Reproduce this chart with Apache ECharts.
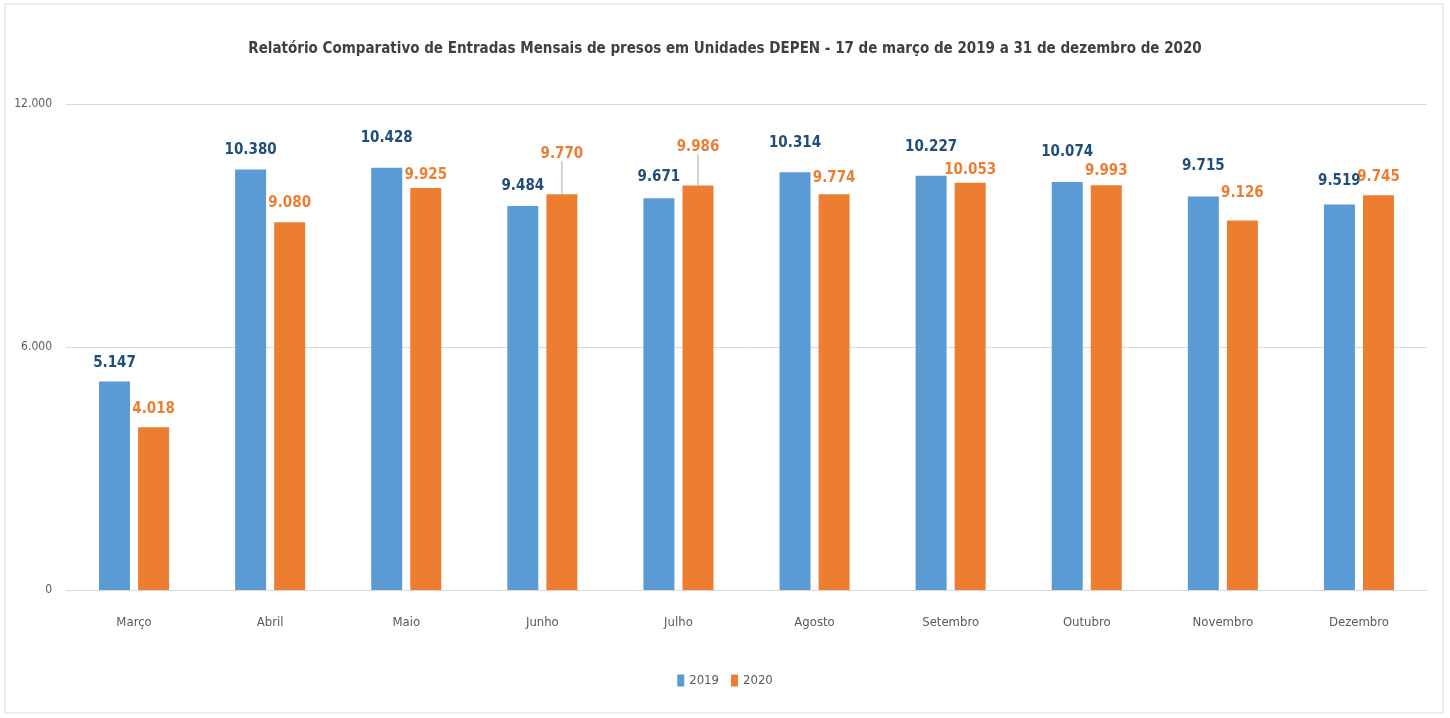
<!DOCTYPE html>
<html>
<head>
<meta charset="utf-8">
<script src="https://cdn.jsdelivr.net/npm/echarts@6/dist/echarts.min.js"></script>
<style>
  html, body { margin: 0; padding: 0; background: #fff; }
  #chart { width: 1450px; height: 718px; }
</style>
</head>
<body>
<div id="chart"></div>
<script>
  // meses
  var months = ['Março', 'Abril', 'Maio', 'Junho', 'Julho', 'Agosto', 'Setembro', 'Outubro', 'Novembro', 'Dezembro'];
  var values2019 = [5147, 10380, 10428, 9484, 9671, 10314, 10227, 10074, 9715, 9519];
  var values2020 = [4018, 9080, 9925, 9770, 9986, 9774, 10053, 9993, 9126, 9745];
  var yTicks = [0, 6000, 12000];

  var FONT = "'DejaVu Sans Condensed', 'Liberation Sans Narrow', sans-serif";

  function fmt(v) {
    return String(v).replace(/\B(?=(\d{3})+(?!\d))/g, '.');
  }

  // ajustes manuais dos rótulos (como no Excel)
  var shift2019 = [-6, -7, -17, -7, -9, -17, -16, -17, -18, -11];
  var shift2020 = [-6, -7, 0, -28, -26, -4, 0, -2, -15, -6];
  var withLine2020 = { 3: true, 4: true };

  function barLabel(color) {
    return {
      show: true,
      position: 'top',
      distance: 5,
      fontFamily: FONT,
      fontSize: 15,
      fontWeight: 'bold',
      color: color,
      formatter: function (p) { return fmt(p.value); }
    };
  }

  var chart = echarts.init(document.getElementById('chart'));
  chart.setOption({
    animation: false,
    textStyle: { fontFamily: FONT },
    title: {
      text: 'Relatório Comparativo de Entradas Mensais de presos em Unidades DEPEN - 17 de março de 2019 a 31 de dezembro de 2020',
      left: 'center',
      top: 37,
      textStyle: { fontFamily: FONT, fontSize: 15, fontWeight: 'bold', color: '#404040' }
    },
    graphic: [{
      type: 'rect',
      shape: { x: 5, y: 4, width: 1438, height: 709 },
      style: { fill: 'none', stroke: '#d9d9d9', lineWidth: 1 },
      silent: true
    }],
    legend: {
      bottom: 26,
      left: 'center',
      itemWidth: 7,
      itemHeight: 12,
      itemGap: 12,
      icon: 'rect',
      textStyle: { fontFamily: FONT, fontSize: 13, color: '#595959' },
      data: ['2019', '2020']
    },
    grid: { left: 66, right: 23, top: 104, bottom: 128 },
    xAxis: {
      type: 'category',
      data: months,
      axisLine: { lineStyle: { color: '#d9d9d9' } },
      axisTick: { show: false },
      axisLabel: { fontFamily: FONT, fontSize: 13, color: '#595959', margin: 26 }
    },
    yAxis: {
      type: 'value',
      min: yTicks[0],
      max: yTicks[yTicks.length - 1],
      interval: 6000,
      axisLine: { show: false },
      axisTick: { show: false },
      splitLine: { lineStyle: { color: '#d9d9d9' } },
      axisLabel: { fontFamily: FONT, fontSize: 12, color: '#595959', margin: 14, formatter: fmt }
    },
    series: [{
      name: '2019',
      type: 'bar',
      data: values2019,
      barWidth: 31,
      barGap: '26%',
      itemStyle: { color: '#5b9bd5' },
      label: barLabel('#1f4e79'),
      labelLayout: function (p) {
        return { dy: shift2019[p.dataIndex] };
      }
    }, {
      name: '2020',
      type: 'bar',
      data: values2020.map(function (v, i) {
        var item = { value: v };
        if (withLine2020[i]) {
          item.labelLine = { show: true, lineStyle: { color: '#a6a6a6', width: 1 } };
        }
        return item;
      }),
      barWidth: 31,
      itemStyle: { color: '#ed7d31' },
      label: barLabel('#ed7d31'),
      labelLayout: function (p) {
        return { dy: shift2020[p.dataIndex] };
      }
    }]
  });
</script>
</body>
</html>
